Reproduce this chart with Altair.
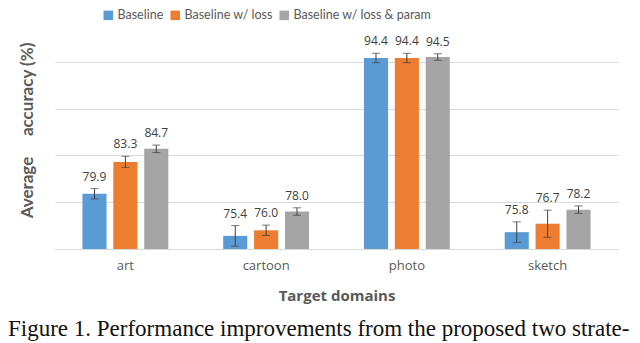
import altair as alt
import pandas as pd

domains = ["art", "cartoon", "photo", "sketch"]
methods = ["Baseline", "Baseline w/ loss", "Baseline w/ loss & param"]
colors = ["#5B9BD5", "#ED7D31", "#A5A5A5"]

acc_baseline = [79.9, 75.4, 94.4, 75.8]
acc_loss = [83.3, 76.0, 94.4, 76.7]
acc_param = [84.7, 78.0, 94.5, 78.2]

err_baseline = [0.55, 1.1, 0.5, 1.1]
err_loss = [0.6, 0.55, 0.5, 1.45]
err_param = [0.4, 0.4, 0.35, 0.4]

caption = ["Figure 1. Performance improvements from the proposed two strate-"]

rows = []
for m, accs, errs in zip(methods, [acc_baseline, acc_loss, acc_param],
                         [err_baseline, err_loss, err_param]):
    for d, a, e in zip(domains, accs, errs):
        rows.append({"domain": d, "method": m, "acc": a,
                     "lo": a - e, "hi": a + e, "label": f"{a:.1f}"})
df = pd.DataFrame(rows)

ymin, ymax = 74, 96
x_enc = alt.X("domain:N", sort=domains,
              scale=alt.Scale(paddingInner=0.39, paddingOuter=0.195),
              axis=alt.Axis(title="Target domains", labelFontSize=13,
                            labelColor="#595959", labelFont="Open Sans",
                            labelPadding=10, labelAngle=0, ticks=False,
                            domainColor="#D9D9D9", titleFont="Open Sans",
                            titleFontSize=15, titleFontWeight="bold",
                            titleColor="#595959", titlePadding=16))
xo = alt.XOffset("method:N", sort=methods, scale=alt.Scale(paddingInner=0.22))
yscale = alt.Scale(domain=[ymin, ymax], nice=False, zero=False)

base = alt.Chart(df)

bars = base.mark_bar().encode(
    x=x_enc, xOffset=xo,
    y=alt.Y("acc:Q", scale=yscale,
            axis=alt.Axis(title="Average\u00a0\u00a0\u00a0\u00a0 accuracy (%)",
                          values=[74, 79, 84, 89, 94], labels=False,
                          ticks=False, domain=False, gridColor="#D9D9D9",
                          titleFont="Lato", titleFontSize=17,
                          titleFontWeight="bold", titleColor="#595959",
                          titlePadding=19, titleY=87)),
    y2=alt.Y2(datum=ymin),
    color=alt.Color("method:N", sort=methods,
                    scale=alt.Scale(domain=methods, range=colors),
                    legend=alt.Legend(title=None, orient="none",
                                      direction="horizontal",
                                      legendX=47, legendY=-34,
                                      symbolType="square", symbolSize=90,
                                      symbolStrokeWidth=0,
                                      labelFont="Lato", labelFontSize=12.5,
                                      labelColor="#595959", columnPadding=5,
                                      symbolOffset=0, labelOffset=3)),
)

rule = base.mark_rule(color="#404040", strokeWidth=1).encode(
    x=alt.X("domain:N", sort=domains), xOffset=xo,
    y="lo:Q", y2="hi:Q")

cap_lo = base.mark_tick(color="#404040", thickness=1, size=8).encode(
    x=alt.X("domain:N", sort=domains), xOffset=xo, y="lo:Q")
cap_hi = base.mark_tick(color="#404040", thickness=1, size=8).encode(
    x=alt.X("domain:N", sort=domains), xOffset=xo, y="hi:Q")

labels = base.mark_text(baseline="bottom", dy=-5, fontSize=12,
                        font="Open Sans", color="#404040").encode(
    x=alt.X("domain:N", sort=domains), xOffset=xo, y="hi:Q", text="label:N")

cap_df = pd.DataFrame({"t": caption})
cap = alt.Chart(cap_df).mark_text(align="left", baseline="alphabetic",
                                  font="Liberation Serif", fontSize=23,
                                  color="#111111").encode(
    x=alt.value(-47), y=alt.value(293), text="t:N")

chart = alt.layer(bars, rule, cap_lo, cap_hi, labels, cap).properties(
    width=563, height=206,
    padding={"left": 47, "top": 35, "right": 14, "bottom": 94},
    autosize=alt.AutoSizeParams(type="none"),
).configure(background="white").configure_view(stroke=None)

chart.save("out.html", embed_options={"renderer": "svg", "actions": False})
